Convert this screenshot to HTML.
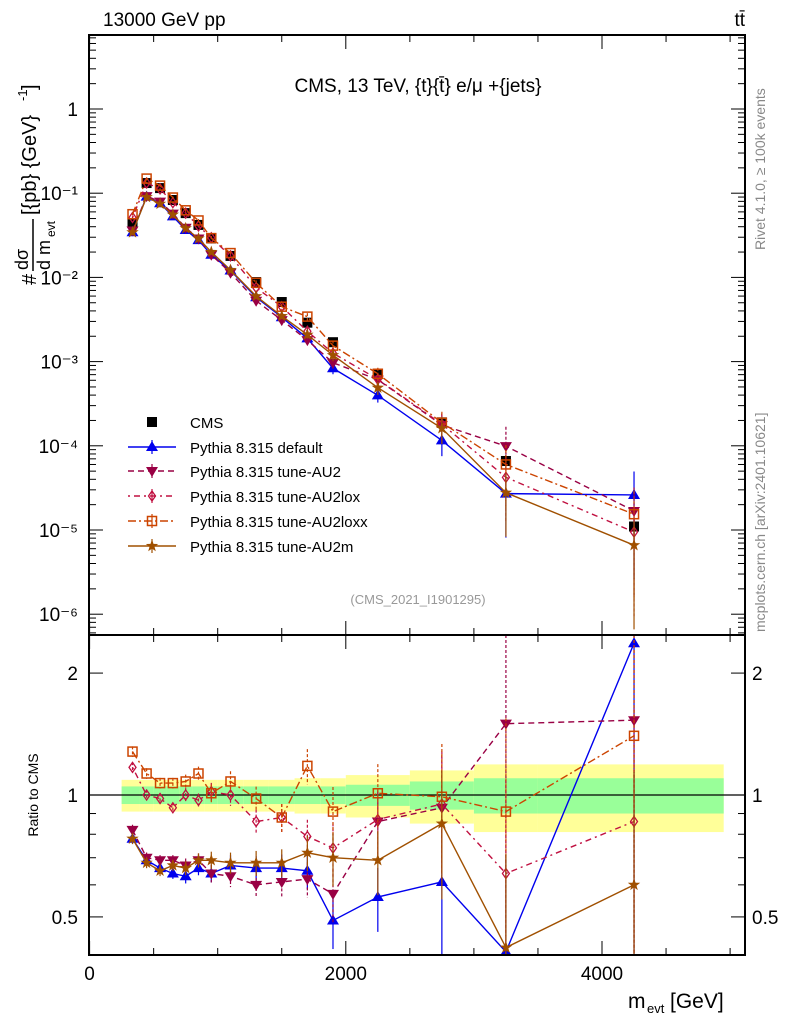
<!DOCTYPE html>
<html><head><meta charset="utf-8"><style>
body{margin:0;background:#fff;}
svg{display:block;font-family:"Liberation Sans",Arial,sans-serif;}
</style></head><body>
<svg id="c" width="786" height="1024" xmlns="http://www.w3.org/2000/svg">
<rect x="0" y="0" width="786" height="1024" fill="#fff"/>
<g id="bands"></g>
<g id="marks"></g>
<g id="axes"></g>
<text x="103" y="26" font-size="19">13000 GeV pp</text>
<text x="745" y="26" font-size="19" text-anchor="end">tt̄</text>
<text x="418" y="92" font-size="19" text-anchor="middle">CMS, 13 TeV, {t}{t̄} e/μ +{jets}</text>
<text x="418" y="604" font-size="13" fill="#999" text-anchor="middle">(CMS_2021_I1901295)</text>
<text transform="translate(765,250) rotate(-90)" font-size="14" fill="#888">Rivet 4.1.0, ≥ 100k events</text>
<text transform="translate(765,632) rotate(-90)" font-size="14" fill="#888">mcplots.cern.ch [arXiv:2401.10621]</text>
<g transform="translate(36,285) rotate(-90)">
  <text x="0" y="0" font-size="20">#</text>
  <text x="15" y="-8" font-size="18">dσ</text>
  <line x1="14" y1="-3" x2="66" y2="-3" stroke="#000" stroke-width="1.5"/>
  <text x="15" y="14" font-size="18">d m</text>
  <text x="48" y="19" font-size="12">evt</text>
  <text x="70" y="0" font-size="20">[{pb} {GeV}</text>
  <text x="184" y="-9" font-size="13">-1</text>
  <text x="195" y="0" font-size="20">]</text>
</g>
<text transform="translate(38,795) rotate(-90)" font-size="14" text-anchor="middle">Ratio to CMS</text>
<g><text x="628" y="1008" font-size="21">m</text><text x="647" y="1013" font-size="13">evt</text><text x="670" y="1008" font-size="21">[GeV]</text></g>
<g id="legend"></g>
</svg>
<script>
// ---- data ----
const binCenters=[335,445,550,650,750,850,950,1100,1300,1500,1700,1900,2250,2750,3250,4250];
const binEdges=[250,390,500,600,700,800,900,1000,1200,1400,1600,1800,2000,2500,3000,3500,4950];
const cmsValues=[0.044,0.132,0.115,0.083,0.058,0.042,0.029,0.018,0.0088,0.0051,0.0029,0.0017,0.00071,0.00019,6.6e-5,1.1e-5];
const cmsStatBand=[0.05,0.05,0.05,0.05,0.05,0.05,0.05,0.05,0.05,0.05,0.05,0.05,0.06,0.08,0.1,0.1];
const cmsTotBand=[0.09,0.09,0.09,0.09,0.09,0.09,0.09,0.09,0.09,0.09,0.1,0.1,0.12,0.15,0.19,0.19];
const ratioDefault=[0.78,0.69,0.66,0.64,0.63,0.66,0.64,0.67,0.66,0.66,0.65,0.49,0.56,0.61,0.41,2.37];
const ratioAU2=[0.82,0.70,0.69,0.69,0.67,0.69,0.64,0.63,0.60,0.61,0.62,0.57,0.86,0.93,1.50,1.53];
const ratioAU2lox=[1.17,1.00,0.98,0.93,1.00,0.97,1.02,1.00,0.86,0.88,0.79,0.74,0.87,0.95,0.64,0.86];
const ratioAU2loxx=[1.28,1.13,1.07,1.07,1.08,1.13,1.01,1.08,0.98,0.88,1.18,0.91,1.01,0.99,0.91,1.40];
const ratioAU2m=[0.78,0.68,0.65,0.67,0.66,0.69,0.69,0.68,0.68,0.68,0.72,0.70,0.69,0.85,0.42,0.60];
const modelRelErr=[0.03,0.03,0.03,0.03,0.04,0.04,0.05,0.06,0.07,0.08,0.1,0.15,0.18,0.35,0.7,0.9];
const cmsRelErr=[0.05,0.05,0.05,0.05,0.05,0.05,0.05,0.05,0.06,0.06,0.07,0.08,0.1,0.14,0.18,0.2];
const mainTicks=["1","10⁻¹","10⁻²","10⁻³","10⁻⁴","10⁻⁵","10⁻⁶"];
const ratioTicks=[2,1,0.5];
const xTicks=[0,2000,4000];

// ---- scales ----
const L=89,R=745,T=35,M=635,B=955;
const X=v=>89.6+v*0.1281;
const Y=v=>109-Math.log10(v)*84.2;
const YR=v=>795-Math.log10(v)*405;
const NS="http://www.w3.org/2000/svg";
function mk(tag,attrs,parent){const e=document.createElementNS(NS,tag);for(const k in attrs)e.setAttribute(k,attrs[k]);parent.appendChild(e);return e;}
const clampM=y=>Math.max(T,Math.min(M,y));
const clampR=y=>Math.max(M,Math.min(B,y));

const bands=document.getElementById('bands');
binCenters.forEach((c,i)=>{
  const x1=X(binEdges[i]),x2=X(binEdges[i+1]);
  const y=mk('rect',{x:x1,y:YR(1+cmsTotBand[i]),width:x2-x1,height:YR(1-cmsTotBand[i])-YR(1+cmsTotBand[i]),fill:'#ffff99'},bands);
  
  
  const g=mk('rect',{x:x1,y:YR(1+cmsStatBand[i]),width:x2-x1,height:YR(1-cmsStatBand[i])-YR(1+cmsStatBand[i]),fill:'#99ff99'},bands);
  
  
});

function marker(type,x,y,col,p){
  let e;const s=5;
  if(type==='sq') e=mk('rect',{x:x-s,y:y-s,width:2*s,height:2*s,fill:'#000'},p);
  else if(type==='tu') e=mk('polygon',{points:`${x},${y-6} ${x-6},${y+4} ${x+6},${y+4}`,fill:col},p);
  else if(type==='td') e=mk('polygon',{points:`${x},${y+6} ${x-6},${y-4} ${x+6},${y-4}`,fill:col},p);
  else if(type==='di') e=mk('polygon',{points:`${x},${y-5} ${x-3.5},${y} ${x},${y+5} ${x+3.5},${y}`,fill:'none',stroke:col,'stroke-width':1.3},p);
  else if(type==='osq') e=mk('rect',{x:x-4.5,y:y-4.5,width:9,height:9,fill:'none',stroke:col,'stroke-width':1.5},p);
  else if(type==='st'){let pts=[];for(let k=0;k<10;k++){const r=k%2?2.6:6.5,a=-Math.PI/2+k*Math.PI/5;pts.push((x+r*Math.cos(a)).toFixed(1)+','+(y+r*Math.sin(a)).toFixed(1));}e=mk('polygon',{points:pts.join(' '),fill:col},p);}
  return e;
}

const marks=document.getElementById('marks');
const series=[
 {name:'default',ratio:ratioDefault,col:'#0000ee',dash:'',m:'tu',label:'Pythia 8.315 default'},
 {name:'au2',ratio:ratioAU2,col:'#990044',dash:'6,4',m:'td',label:'Pythia 8.315 tune-AU2'},
 {name:'au2lox',ratio:ratioAU2lox,col:'#c01040',dash:'2,4,6,4',m:'di',label:'Pythia 8.315 tune-AU2lox'},
 {name:'au2loxx',ratio:ratioAU2loxx,col:'#cc4400',dash:'8,3,2,3',m:'osq',label:'Pythia 8.315 tune-AU2loxx'},
 {name:'au2m',ratio:ratioAU2m,col:'#a05000',dash:'',m:'st',label:'Pythia 8.315 tune-AU2m'}
];

const gc=mk('g',{},marks);


cmsValues.forEach((v,i)=>{
  const x=X(binCenters[i]);
  mk('line',{x1:x,x2:x,y1:clampM(Y(v*(1+cmsRelErr[i]))),y2:clampM(Y(v*(1-cmsRelErr[i]))),stroke:'#000','stroke-width':1.2},gc);
  const p=marker('sq',x,Y(v),'#000',gc);
  
  
});
mk('line',{x1:L,x2:R,y1:YR(1),y2:YR(1),stroke:'#000','stroke-width':1.2},marks);

series.forEach(s=>{
  const g=mk('g',{},marks);
  
  
  const mainPts=[],ratPts=[];
  s.ratio.forEach((r,i)=>{
    const x=X(binCenters[i]),v=cmsValues[i]*r;
    mainPts.push(x+','+Y(v));ratPts.push(x+','+YR(r));
  });
  const cpM=mk('clipPath',{id:'cm'+s.name},g);mk('rect',{x:L,y:T,width:R-L,height:M-T},cpM);
  const cpR=mk('clipPath',{id:'cr'+s.name},g);mk('rect',{x:L,y:M,width:R-L,height:B-M},cpR);
  const l1=mk('polyline',{points:mainPts.join(' '),fill:'none',stroke:s.col,'stroke-width':1.4,'stroke-dasharray':s.dash,'clip-path':`url(#cm${s.name})`},g);
  
  
  const l2=mk('polyline',{points:ratPts.join(' '),fill:'none',stroke:s.col,'stroke-width':1.4,'stroke-dasharray':s.dash,'clip-path':`url(#cr${s.name})`},g);
  
  
  s.ratio.forEach((r,i)=>{
    const x=X(binCenters[i]),v=cmsValues[i]*r,e=modelRelErr[i];
    mk('line',{x1:x,x2:x,y1:clampM(Y(v*(1+e))),y2:clampM(Y(Math.max(v*(1-e),1e-9))),stroke:s.col,'stroke-width':1.2,'stroke-dasharray':s.dash?'3,2':''},g);
    mk('line',{x1:x,x2:x,y1:clampR(YR(r*(1+e))),y2:clampR(YR(Math.max(r*(1-e),0.01))),stroke:s.col,'stroke-width':1.2,'stroke-dasharray':s.dash?'3,2':''},g);
    if(Y(v)>=T&&Y(v)<=M){const p=marker(s.m,x,Y(v),s.col,g);}
    if(YR(r)>=M-3&&YR(r)<=B+3){const p=marker(s.m,x,YR(r),s.col,g);}
  });
});

const ax=document.getElementById('axes');
mk('rect',{x:L,y:T,width:R-L,height:B-T,fill:'none',stroke:'#000','stroke-width':2},ax);
mk('line',{x1:L,x2:R,y1:M,y2:M,stroke:'#000','stroke-width':2},ax);
for(let d=0;d>=-7;d--){
  for(let k=1;k<10;k++){
    const v=k*Math.pow(10,d),y=Y(v);
    if(y<T||y>M)continue;
    const len=k===1?14:7;
    mk('line',{x1:L,x2:L+len,y1:y,y2:y,stroke:'#000','stroke-width':1},ax);
    mk('line',{x1:R,x2:R-len,y1:y,y2:y,stroke:'#000','stroke-width':1},ax);
  }
}
mainTicks.forEach((t,i)=>{
  const tx=mk('text',{x:78,y:Y(Math.pow(10,-i))+7,'font-size':19,'text-anchor':'end'},ax);
  tx.textContent=t;
  
  
});
[0.5,0.6,0.7,0.8,0.9,1,2].forEach(v=>{
  const y=YR(v),len=(v===1||v===2||v===0.5)?14:7;
  mk('line',{x1:L,x2:L+len,y1:y,y2:y,stroke:'#000'},ax);
  mk('line',{x1:R,x2:R-len,y1:y,y2:y,stroke:'#000'},ax);
});
ratioTicks.forEach(v=>{
  const a=mk('text',{x:78,y:YR(v)+7,'font-size':19,'text-anchor':'end'},ax);a.textContent=String(v);
  
  
  const b=mk('text',{x:752,y:YR(v)+7,'font-size':19},ax);b.textContent=String(v);
  
  
});
for(let v=0;v<=5000;v+=500){
  const x=X(v),len=v%2000===0?14:7;
  [T,M].forEach(y0=>mk('line',{x1:x,x2:x,y1:y0,y2:y0+len,stroke:'#000'},ax));
  [M,B].forEach(y0=>mk('line',{x1:x,x2:x,y1:y0,y2:y0-len,stroke:'#000'},ax));
}
xTicks.forEach(v=>{
  const t=mk('text',{x:X(v),y:980,'font-size':19,'text-anchor':'middle'},ax);t.textContent=String(v);
  
  
});

const lg=document.getElementById('legend');
const ly=[422,447,471,496,521,546];
let e=marker('sq',152,ly[0],'#000',lg);
let t=mk('text',{x:190,y:ly[0]+6,'font-size':15},lg);t.textContent='CMS';


series.forEach((s,i)=>{
  const y=ly[i+1];
  mk('line',{x1:128,x2:176,y1:y,y2:y,stroke:s.col,'stroke-width':1.4,'stroke-dasharray':s.dash},lg);
  mk('line',{x1:152,x2:152,y1:y-7,y2:y+7,stroke:s.col,'stroke-width':1.2},lg);
  marker(s.m,152,y,s.col,lg);
  const tt=mk('text',{x:190,y:y+6,'font-size':15},lg);tt.textContent=s.label;
  
  
});
</script>
</body></html>
